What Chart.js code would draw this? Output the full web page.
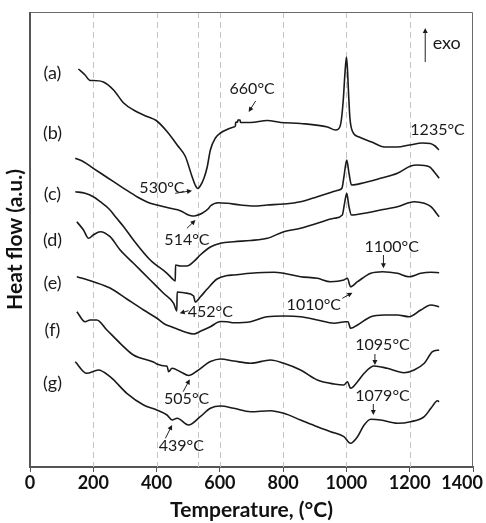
<!DOCTYPE html>
<html>
<head>
<meta charset="utf-8">
<script src="https://cdn.jsdelivr.net/npm/chart.js@4.4.1/dist/chart.umd.min.js"></script>
<style>
  html, body { margin: 0; padding: 0; background: #fff; }
  #wrap { width: 486px; height: 523px; }
</style>
</head>
<body>
<div id="wrap"><canvas id="dta"></canvas></div>
<script>
// DTA curves, [temperature °C, heat flow a.u.]
const curveA = [[153,398],[174,392],[190,386.5],[200,386.5],[232,385],[264,377],[296,364],[327,357],[370,350.5],[399,346.5],[433,335.5],[465,322],[491,310.5],[512,290.5],[522,282],[530,278.5],[538,281],[550,289],[560,300],[570,317],[586,329],[602,334],[623,337.5],[644,340],[649,341],[650,344.5],[656,345],[657,347],[664,347],[665,344.5],[697,344.5],[750,346.5],[792,344.5],[855,343.5],[940,340],[965,337],[975,338],[983,345],[990,367],[995,392],[1000,410],[1003,399],[1007,372],[1011,349],[1020,335],[1040,330],[1080,325],[1120,320],[1160,320],[1200,322],[1240,324],[1265,323.5],[1280,321],[1292,317]];
const curveB = [[143,308.7],[169,305.3],[200,298.7],[232,292],[264,285.3],[296,278.7],[338,270.3],[380,263.7],[401,262],[443,258.7],[475,256.3],[501,252],[514,251],[523,251.3],[544,253.7],[565,258.7],[570,261],[596,264.3],[623,263.7],[665,262],[707,261],[750,262],[802,263],[855,265.3],[908,270.3],[950,274.5],[976,277],[986,279],[992,290],[1001,307],[1008,294],[1016,282],[1056,284.3],[1108,288.7],[1161,293.7],[1203,301],[1225,302],[1262,300.3],[1277,295.3],[1293,288.7]];
const curveC = [[143,275.3],[174,273.7],[200,270.3],[222,265.3],[250,258],[274,248.7],[296,240.3],[327,227],[380,207],[433,193.7],[454,187],[459,186],[460,202],[475,201],[496,201],[517,205.3],[538,212],[570,220],[602,223.7],[644,225.3],[697,226.5],[750,228.7],[802,235.3],[855,238.7],[908,243.7],[961,248.7],[987,252],[994,263.7],[1001,273.7],[1008,260.3],[1016,252],[1056,253.7],[1108,257],[1161,260.3],[1214,265.3],[1246,263.7],[1267,260.3],[1293,250.3]];
const curveD = [[148,245.3],[169,237],[185,228.7],[200,232],[222,235.3],[253,230.3],[285,217],[327,203.7],[380,187],[422,173.7],[454,163.7],[464,156],[465,175],[490,174],[517,171],[522,165],[538,170],[560,178],[591,188],[623,191.5],[644,192],[697,193.7],[770,194.7],[802,193.7],[855,190.3],[908,188.7],[950,185.3],[992,187],[1003,188.7],[1013,180.3],[1035,185.3],[1077,193.7],[1114,195.3],[1161,193.7],[1198,190.3],[1235,193.7],[1267,194.7],[1293,194.3]];
const curveE = [[148,190.3],[200,185.3],[253,179],[306,168],[359,157],[400,149],[425,143],[440,141],[465,138],[490,135],[517,133],[540,136],[570,140.3],[602,145.5],[623,145.3],[644,144.3],[697,145.3],[750,150.3],[802,151],[855,150.3],[908,147],[961,143.7],[997,145.3],[1005,145.3],[1013,138.7],[1035,142],[1077,150.3],[1119,152],[1161,152],[1198,150.3],[1235,157],[1267,162],[1293,160.3]];
const curveF = [[148,155.3],[174,145.3],[190,147],[211,147],[243,137],[285,123.7],[327,112],[390,105],[401,103],[428,101],[433,101],[438,95.3],[449,98.7],[475,95.3],[501,91.5],[528,96],[560,103.7],[570,105.5],[602,108],[644,106],[697,103.7],[760,107],[802,103.7],[855,97],[908,87],[961,83],[992,82],[1003,85.3],[1013,78.7],[1035,85.3],[1056,93.7],[1087,101],[1129,98.7],[1182,94.3],[1214,97],[1246,103.7],[1272,115.3],[1293,117]];
const curveG = [[143,105.3],[179,93.7],[216,97],[253,90.3],[306,73.7],[359,62],[401,57],[433,52],[449,47],[465,48.7],[501,42],[538,50.3],[570,58.7],[602,61],[644,58.7],[697,55.3],[760,56.3],[802,53.7],[855,47],[908,40.3],[950,35.3],[992,30.3],[1013,23.7],[1035,30.3],[1056,42],[1077,47.7],[1108,47],[1161,43.7],[1203,45.3],[1246,50.3],[1267,58.7],[1288,66.3],[1293,65.3]];

const curves = [curveA, curveB, curveC, curveD, curveE, curveF, curveG];
const curveNames = ['(a)', '(b)', '(c)', '(d)', '(e)', '(f)', '(g)'];
const nameFlow = [394, 334, 273, 227, 184, 137, 84];   // where each name sits
const gridTemps = [200, 400, 530, 600, 800, 1000, 1200];

// peak notes: text spot and arrow, in °C / a.u.
const notes = [
  { text: '660°C',  x: 702,  y: 378,   from: [713, 366],  to: [691, 355] },
  { text: '1235°C', x: 1288, y: 337 },
  { text: '530°C',  x: 417,  y: 278.7, from: [459, 273.7], to: [512, 276.3] },
  { text: '514°C',  x: 496,  y: 227,   from: [496, 238.7], to: [523, 247] },
  { text: '452°C',  x: 570,  y: 155.3, from: [501, 156.3], to: [473, 153.7] },
  { text: '1010°C', x: 897,  y: 162,   from: [987, 168.7], to: [1019, 174.3] },
  { text: '1100°C', x: 1143, y: 220.3, from: [1117, 212],  to: [1117, 198.7] },
  { text: '1095°C', x: 1114, y: 122,   from: [1090, 113],  to: [1090, 102] },
  { text: '1079°C', x: 1114, y: 71,    from: [1085, 63],   to: [1085, 52] },
  { text: '505°C',  x: 495,  y: 67.7,  from: [484, 75.3],  to: [505, 87.7] },
  { text: '439°C',  x: 478,  y: 21,    from: [428, 28.7],  to: [449, 42] }
];

const FONT = 'Lato, "Open Sans", sans-serif';

function arrow(ctx, x1, y1, x2, y2) {
  const ang = Math.atan2(y2 - y1, x2 - x1);
  ctx.beginPath();
  ctx.moveTo(x1, y1);
  ctx.lineTo(x2 - 3 * Math.cos(ang), y2 - 3 * Math.sin(ang));
  ctx.stroke();
  ctx.beginPath();
  ctx.moveTo(x2, y2);
  ctx.lineTo(x2 - 5 * Math.cos(ang) + 2.5 * Math.sin(ang), y2 - 5 * Math.sin(ang) - 2.5 * Math.cos(ang));
  ctx.lineTo(x2 - 5 * Math.cos(ang) - 2.5 * Math.sin(ang), y2 - 5 * Math.sin(ang) + 2.5 * Math.cos(ang));
  ctx.closePath();
  ctx.fill();
}

const decor = {
  id: 'decor',
  beforeDatasetsDraw(chart) {
    const { ctx, chartArea: a, scales: { x } } = chart;
    ctx.save();
    ctx.strokeStyle = '#c4c4c4';
    ctx.lineWidth = 1;
    ctx.setLineDash([6, 4]);
    gridTemps.forEach(t => {
      const px = Math.round(x.getPixelForValue(t)) + 0.5;
      ctx.beginPath();
      ctx.moveTo(px, a.top);
      ctx.lineTo(px, a.bottom);
      ctx.stroke();
    });
    ctx.setLineDash([]);
    // frame
    ctx.strokeStyle = '#6a6a6a';
    ctx.beginPath();
    ctx.moveTo(a.left, a.top + 0.5);
    ctx.lineTo(a.right - 0.5, a.top + 0.5);
    ctx.lineTo(a.right - 0.5, a.bottom);
    ctx.stroke();
    ctx.strokeStyle = '#555';
    ctx.lineWidth = 2;
    ctx.beginPath();
    ctx.moveTo(a.left, a.top);
    ctx.lineTo(a.left, a.bottom);
    ctx.stroke();
    ctx.restore();
  },
  afterDraw(chart) {
    const { ctx, chartArea: a, scales: { x, y } } = chart;
    ctx.save();
    // tick labels
    ctx.fillStyle = '#111';
    ctx.font = 'bold 18px ' + FONT;
    ctx.textBaseline = 'middle';
    ctx.textAlign = 'center';
    x.ticks.forEach(t => {
      const s = String(t.value);
      const w = ctx.measureText(s).width;
      let px = x.getPixelForValue(t.value);
      px = Math.min(px, chart.width - 3 - w / 2);
      ctx.fillText(s, px, a.bottom + 16);
    });
    // y title
    ctx.save();
    ctx.translate(15, (a.top + a.bottom) / 2);
    ctx.rotate(-Math.PI / 2);
    ctx.font = 'bold 21px ' + FONT;
    ctx.fillText('Heat flow (a.u.)', 0, 0);
    ctx.restore();
    // curve names
    ctx.font = '18px ' + FONT;
    ctx.fillStyle = '#1a1a1a';
    curveNames.forEach((n, i) => {
      ctx.fillText(n, x.getPixelForValue(71), y.getPixelForValue(nameFlow[i]));
    });
    // notes
    ctx.font = '16px ' + FONT;
    ctx.strokeStyle = '#222';
    ctx.lineWidth = 1;
    notes.forEach(n => {
      ctx.fillText(n.text, x.getPixelForValue(n.x), y.getPixelForValue(n.y));
      if (n.from) {
        arrow(ctx, x.getPixelForValue(n.from[0]), y.getPixelForValue(n.from[1]),
                   x.getPixelForValue(n.to[0]), y.getPixelForValue(n.to[1]));
      }
    });
    // exo marker
    const ex = x.getPixelForValue(1249);
    arrow(ctx, ex, y.getPixelForValue(405), ex, y.getPixelForValue(439));
    ctx.font = '18px ' + FONT;
    ctx.fillText('exo', x.getPixelForValue(1317), y.getPixelForValue(424));
    ctx.restore();
  }
};

new Chart(document.getElementById('dta'), {
  type: 'line',
  data: {
    datasets: curves.map((c, i) => ({
      label: curveNames[i],
      data: c.map(p => ({ x: p[0], y: p[1] })),
      borderColor: '#1a1a1a',
      borderWidth: 1.6,
      pointRadius: 0,
      fill: false,
      cubicInterpolationMode: 'monotone'
    }))
  },
  options: {
    responsive: true,
    maintainAspectRatio: false,
    animation: false,
    layout: { padding: { left: 30, right: 13, top: 12, bottom: 0 } },
    plugins: { legend: { display: false }, tooltip: { enabled: false } },
    scales: {
      x: {
        type: 'linear',
        min: 0,
        max: 1400,
        ticks: { stepSize: 200, display: false },
        grid: { drawOnChartArea: false, drawTicks: true, tickLength: 5, tickColor: '#555', tickWidth: 1 },
        border: { color: '#555', width: 2 },
        title: {
          display: true,
          text: 'Temperature, (°C)',
          color: '#111',
          font: { family: FONT, size: 21, weight: 'bold' },
          padding: { top: 0, bottom: 0 }
        },
        afterFit(scale) {
          scale.height = 56;
          scale.paddingLeft = 0;
          scale.paddingRight = 0;
        }
      },
      y: { display: false, min: 0, max: 455 }
    }
  },
  plugins: [decor]
});
</script>
</body>
</html>
